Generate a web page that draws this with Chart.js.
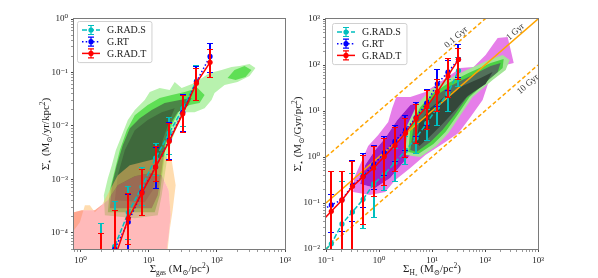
<!DOCTYPE html>
<html>
<head>
<meta charset="utf-8">
<script src="https://cdn.jsdelivr.net/npm/chart.js@4/dist/chart.umd.min.js"></script>
<style>
html, body { margin: 0; padding: 0; background: #fff; }
#wrap { position: relative; width: 598px; height: 278px; overflow: hidden; }
#wrap canvas { position: absolute; top: 0; }
</style>
</head>
<body>
<div id="wrap">
<canvas id="left" width="300" height="278" style="left:0"></canvas>
<canvas id="right" width="308" height="278" style="left:290px"></canvas>
</div>
<script>
const FONT = "'Liberation Serif', 'DejaVu Serif', serif";

// ---- left panel: SFR surface density vs gas surface density ----
const gasBins = [2.0, 3.16, 5.01, 7.94, 12.6, 20.0, 31.6, 50.1, 79.4];
const gasRadS   = [2e-5, 5.6e-5, 2.4e-4, 7.3e-4, 2.5e-3, 7.4e-3, 2.1e-2, 6.9e-2, null];
const gasRadSLo = [1e-6, 1e-6, 7.6e-5, 3.3e-4, 1.2e-3, 3.0e-3, 1.0e-2, 3.0e-2, null];
const gasRadSHi = [1.5e-4, 4.0e-4, 7.5e-4, 1.7e-3, 4.8e-3, 1.5e-2, 4.0e-2, 0.14, null];
const gasRt     = [1e-5, 5.0e-5, 1.6e-4, 5.8e-4, 1.7e-3, 5.5e-3, 1.8e-2, 6.7e-2, 0.20];
const gasRtLo   = [1e-6, 1e-6, 5.0e-5, 2.2e-4, 7.0e-4, 2.4e-3, 8.0e-3, 3.0e-2, 0.10];
const gasRtHi   = [1.0e-4, 2.7e-4, 5.3e-4, 1.6e-3, 4.0e-3, 1.2e-2, 4.0e-2, 0.13, 0.35];
const gasRadT   = [2e-5, 3.4e-5, 1.86e-4, 5.6e-4, 1.7e-3, 5.2e-3, 1.7e-2, 6.3e-2, 0.155];
const gasRadTLo = [1e-6, 1e-6, 6.3e-5, 2.2e-4, 9.5e-4, 2.3e-3, 7.8e-3, 3.0e-2, 0.081];
const gasRadTHi = [1.0e-4, 2.7e-4, 5.5e-4, 1.55e-3, 4.2e-3, 1.15e-2, 3.8e-2, 0.12, 0.28];

// contour outlines, [log10 x, log10 y]
const gasGreen1 = [[0.356,-3.67],[0.341,-3.296],[0.40,-2.978],[0.458,-2.734],[0.517,-2.453],[0.605,-2.172],[0.693,-1.891],[0.795,-1.704],[0.941,-1.517],[1.015,-1.367],[1.161,-1.292],[1.307,-1.33],[1.381,-1.18],[1.483,-1.292],[1.673,-1.199],[1.893,-1.011],[2.069,-0.955],[2.215,-0.899],[2.332,-0.88],[2.479,-0.843],[2.566,-0.918],[2.479,-1.067],[2.303,-1.18],[2.113,-1.236],[1.966,-1.386],[1.922,-1.517],[1.82,-1.667],[1.673,-1.742],[1.527,-1.742],[1.425,-1.985],[1.337,-2.266],[1.278,-2.547],[1.234,-2.921],[1.19,-3.296],[1.132,-3.67],[0.795,-3.727]];
const gasGreen2 = [[0.40,-3.614],[0.429,-3.202],[0.502,-2.828],[0.575,-2.453],[0.678,-2.079],[0.795,-1.798],[0.985,-1.61],[1.161,-1.479],[1.337,-1.423],[1.527,-1.367],[1.717,-1.292],[1.82,-1.423],[1.746,-1.573],[1.6,-1.61],[1.454,-1.704],[1.337,-1.985],[1.249,-2.36],[1.205,-2.828],[1.161,-3.296],[1.088,-3.614]];
const gasGreen2b = [[2.157,-1.105],[2.259,-0.955],[2.406,-0.88],[2.508,-0.955],[2.42,-1.086],[2.274,-1.142]];
const gasGreen3 = [[0.429,-3.539],[0.458,-3.109],[0.531,-2.734],[0.619,-2.36],[0.722,-2.041],[0.868,-1.854],[1.044,-1.704],[1.234,-1.573],[1.454,-1.517],[1.63,-1.479],[1.571,-1.629],[1.425,-1.742],[1.307,-1.985],[1.234,-2.36],[1.19,-2.828],[1.132,-3.296],[1.044,-3.539]];
const gasGreen4 = [[0.502,-3.39],[0.546,-2.921],[0.649,-2.453],[0.795,-2.079],[0.985,-1.891],[1.19,-1.742],[1.381,-1.667],[1.307,-1.891],[1.205,-2.266],[1.132,-2.734],[1.059,-3.202],[0.941,-3.427]];
const gasRed1 = [[-0.098,-4.307],[-0.098,-3.951],[-0.01,-3.80],[0.063,-3.483],[0.136,-3.483],[0.209,-3.614],[0.312,-3.483],[0.429,-3.202],[0.546,-2.921],[0.722,-2.734],[1.015,-2.64],[1.234,-2.566],[1.337,-2.64],[1.395,-3.109],[1.351,-3.577],[1.307,-3.951],[1.278,-4.307]];
const gasRed2 = [[-0.098,-4.307],[-0.098,-3.614],[0.019,-3.577],[0.209,-3.577],[0.40,-3.39],[0.546,-3.109],[0.795,-2.94],[1.015,-2.884],[1.19,-2.921],[1.293,-3.202],[1.322,-3.67],[1.293,-4.045],[1.264,-4.307]];

// ---- right panel: SFR surface density vs H2 surface density ----
const h2Bins = [0.0794, 0.126, 0.2, 0.316, 0.501, 0.794, 1.26, 2.0, 3.16, 5.01, 7.94, 12.6, 20.0, 31.6];
const h2RadS   = [0.0076, 0.013, 0.035, 0.064, 0.12, 0.26, 0.42, 0.76, 1.38, 2.6, 5.4, 12.0, 24, 76];
const h2RadSLo = [0.001, 0.001, 0.001, 0.001, 0.028, 0.05, 0.19, 0.30, 0.70, 1.2, 2.3, 5.0, 10, 35];
const h2RadSHi = [0.05, 0.16, 0.30, 0.45, 0.45, 0.60, 1.0, 1.6, 2.8, 5.5, 11, 25, 50, 150];
const h2Rt     = [0.066, 0.091, 0.117, 0.245, 0.38, 0.68, 1.24, 2.2, 3.9, 7.2, 14.8, 39, 70, 133];
const h2RtLo   = [0.02, 0.024, 0.025, 0.04, 0.08, 0.2, 0.4, 0.8, 1.4, 2.8, 5, 13, 28, 55];
const h2RtHi   = [0.15, 0.16, 0.5, 0.85, 1.2, 1.8, 2.9, 5, 8, 16, 30, 80, 130, 290];
const h2RadT   = [0.038, 0.066, 0.115, 0.23, 0.37, 0.58, 1.02, 1.8, 3.3, 6.9, 12.3, 26, 58, 132];
const h2RadTLo = [0.001, 0.001, 0.001, 0.001, 0.035, 0.14, 0.25, 0.5, 1.0, 2.0, 4, 10, 20, 50];
const h2RadTHi = [0.3, 0.5, 0.5, 0.8, 1.1, 1.7, 2.6, 4.5, 7, 14, 29, 50, 140, 230];

const deplTimes = [0.1, 1, 10];          // Gyr
const deplNames = ['0.1 Gyr', '1 Gyr', '10 Gyr'];
const deplX = [0.1, 1000];

const h2Mag1 = [[-0.489,-0.761],[-0.47,-0.457],[-0.318,-0.065],[-0.205,0.239],[-0.015,0.478],[0.174,0.761],[0.25,1.065],[0.326,1.304],[0.591,1.304],[0.875,1.413],[1.292,1.739],[1.538,1.935],[1.784,1.957],[2.011,2.217],[2.144,2.435],[2.239,2.587],[2.428,2.609],[2.485,2.326],[2.542,2.043],[2.39,2.0],[2.106,1.891],[2.049,1.565],[1.955,1.239],[1.727,0.87],[1.5,0.522],[1.254,0.326],[0.875,0.043],[0.591,-0.239],[0.307,-0.5],[0.117,-0.761],[-0.167,-0.826]];
const h2Mag2 = [[-0.356,-0.587],[-0.261,-0.174],[-0.072,0.152],[0.117,0.413],[0.345,0.804],[0.591,1.13],[0.97,1.283],[1.348,1.565],[1.727,1.783],[2.068,2.0],[2.258,2.109],[2.258,1.98],[2.011,1.674],[1.727,1.348],[1.443,0.913],[1.159,0.543],[0.78,0.261],[0.496,-0.065],[0.212,-0.457],[-0.072,-0.674]];
const h2Green1 = [[0.496,0.043],[0.534,0.696],[0.723,1.152],[0.97,1.457],[1.273,1.674],[1.652,1.891],[2.068,2.109],[2.333,2.217],[2.466,2.109],[2.39,1.891],[2.144,1.674],[1.765,1.304],[1.538,0.913],[1.311,0.522],[1.083,0.239],[0.78,0.0]];
const h2Green2 = [[0.553,0.109],[0.591,0.652],[0.78,1.087],[1.027,1.391],[1.311,1.609],[1.689,1.826],[2.106,2.043],[2.352,2.13],[2.333,1.935],[2.068,1.674],[1.708,1.304],[1.481,0.913],[1.254,0.543],[1.027,0.283],[0.742,0.065]];
const h2Green3 = [[0.591,0.152],[0.648,0.63],[0.818,1.022],[1.064,1.326],[1.348,1.543],[1.727,1.761],[2.106,1.978],[2.295,2.043],[2.239,1.848],[2.011,1.63],[1.652,1.283],[1.424,0.913],[1.197,0.587],[0.97,0.326],[0.705,0.109]];
const h2Green4 = [[0.705,0.326],[0.761,0.761],[0.97,1.065],[1.254,1.326],[1.576,1.543],[1.917,1.717],[2.144,1.848],[2.011,1.587],[1.67,1.326],[1.443,1.022],[1.197,0.717],[0.932,0.413],[0.761,0.239]];

const xMajorL = [1, 10, 100, 1000];
const yMajorL = [1e-4, 1e-3, 1e-2, 1e-1, 1];
const xMajorR = [0.1, 1, 10, 100, 1000];
const yMajorR = [0.01, 0.1, 1, 10, 100, 1000];

// ---- helpers ----
const SUP = {'-': '\u207b', '0': '\u2070', '1': '\u00b9', '2': '\u00b2', '3': '\u00b3', '4': '\u2074', '5': '\u2075'};
function powLabel(v) {
  const e = Math.round(Math.log10(v));
  return '10' + String(e).split('').map(c => SUP[c]).join('');
}
function logTicks(min, max) {
  const out = [];
  for (let d = Math.floor(Math.log10(min)); d <= Math.ceil(Math.log10(max)); d++) {
    for (let m = 1; m <= 9; m++) {
      const v = m * Math.pow(10, d);
      if (v >= min * 0.9999 && v <= max * 1.0001) out.push(v);
    }
  }
  return out;
}
const isMajor = (v, majors) => majors.some(m => Math.abs(m / v - 1) < 1e-6);

function logAxis(min, max, majors, pos, size) {
  return {
    type: 'logarithmic', position: pos, min: min, max: max,
    afterBuildTicks: s => { s.ticks = logTicks(min, max).map(v => ({ value: v })); },
    afterFit: s => { if (pos === 'bottom') s.height = size; else s.width = size; },
    border: { display: false },
    grid: {
      drawOnChartArea: false, drawTicks: true, tickLength: 3, tickColor: '#333',
      tickWidth: c => (c.tick && isMajor(c.tick.value, majors)) ? 0.9 : 0.5
    },
    ticks: {
      autoSkip: false, maxRotation: 0, padding: 3, color: '#222',
      font: { family: FONT, size: 9 },
      callback: v => isMajor(v, majors) ? powLabel(v) : ''
    }
  };
}

function series(label, xs, ys, lo, hi, color, dash, order) {
  return {
    label: label, order: order, showLine: true, clip: 0,
    data: xs.map((x, i) => ({ x: x, y: ys[i] })),
    errLo: lo, errHi: hi,
    borderColor: color, backgroundColor: color, borderWidth: 1.5, borderDash: dash,
    pointRadius: 2.6, pointBackgroundColor: color, pointBorderWidth: 0
  };
}

function polyPath(ctx, chart, pts) {
  const xs = chart.scales.x, ys = chart.scales.y;
  pts.forEach((p, i) => {
    const px = xs.getPixelForValue(Math.pow(10, p[0]));
    const py = ys.getPixelForValue(Math.pow(10, p[1]));
    if (i === 0) ctx.moveTo(px, py); else ctx.lineTo(px, py);
  });
  ctx.closePath();
}

function clipArea(ctx, a) {
  ctx.beginPath();
  ctx.rect(a.left, a.top, a.right - a.left, a.bottom - a.top);
  ctx.clip();
}

const contourPlugin = {
  id: 'contours',
  beforeDatasetsDraw(chart, args, opts) {
    const ctx = chart.ctx;
    ctx.save();
    clipArea(ctx, chart.chartArea);
    (opts.layers || []).forEach(layer => {
      ctx.beginPath();
      layer.polys.forEach(p => polyPath(ctx, chart, p));
      ctx.fillStyle = layer.color;
      ctx.fill('evenodd');
    });
    ctx.restore();
  }
};

const errorBarPlugin = {
  id: 'errbars',
  beforeDatasetDraw(chart, args) {
    const ds = chart.data.datasets[args.index];
    if (!ds.errLo) return;
    const ctx = chart.ctx, xs = chart.scales.x, ys = chart.scales.y;
    ctx.save();
    clipArea(ctx, chart.chartArea);
    ctx.strokeStyle = ds.borderColor;
    ctx.setLineDash([]);
    ds.data.forEach((pt, i) => {
      if (pt.y == null || ds.errLo[i] == null) return;
      const px = Math.round(xs.getPixelForValue(pt.x));
      const lo = Math.round(ys.getPixelForValue(ds.errLo[i])) + 0.5;
      const hi = Math.round(ys.getPixelForValue(ds.errHi[i])) + 0.5;
      ctx.lineWidth = 2;
      ctx.beginPath();
      ctx.moveTo(px, lo); ctx.lineTo(px, hi);
      ctx.stroke();
      ctx.lineWidth = 1;
      ctx.beginPath();
      ctx.moveTo(px - 3, lo); ctx.lineTo(px + 3, lo);
      ctx.moveTo(px - 3, hi); ctx.lineTo(px + 3, hi);
      ctx.stroke();
    });
    ctx.restore();
  }
};

function drawRich(ctx, parts, cx, cy, rot) {
  ctx.save();
  ctx.translate(cx, cy);
  if (rot) ctx.rotate(rot);
  let w = 0;
  parts.forEach(p => { ctx.font = (p.s || 11) + 'px ' + FONT; p.w = ctx.measureText(p.t).width; w += p.w; });
  let x = -w / 2;
  ctx.fillStyle = '#222';
  ctx.textBaseline = 'alphabetic';
  parts.forEach(p => {
    ctx.font = (p.s || 11) + 'px ' + FONT;
    ctx.fillText(p.t, x, 4 + (p.dy || 0));
    x += p.w;
  });
  ctx.restore();
}

const decorPlugin = {
  id: 'decor',
  afterDatasetsDraw(chart, args, o) {
    const ctx = chart.ctx, a = chart.chartArea, xs = chart.scales.x, ys = chart.scales.y;
    // depletion time labels
    (o.notes || []).forEach(n => {
      const x1 = xs.getPixelForValue(n.x), y1 = ys.getPixelForValue(n.x / n.t);
      const x2 = xs.getPixelForValue(n.x * 10), y2 = ys.getPixelForValue(n.x * 10 / n.t);
      ctx.save();
      ctx.translate(x1, y1);
      ctx.rotate(Math.atan2(y2 - y1, x2 - x1));
      ctx.font = '9px ' + FONT;
      ctx.fillStyle = '#333';
      ctx.textAlign = 'center';
      ctx.textBaseline = 'middle';
      ctx.fillText(n.text, 0, n.off);
      ctx.restore();
    });
    // frame
    ctx.save();
    ctx.strokeStyle = '#7a7a7a';
    ctx.lineWidth = 1;
    ctx.strokeRect(Math.round(a.left) - 0.5, Math.round(a.top) - 0.5, Math.round(a.right - a.left) + 1, Math.round(a.bottom - a.top) + 1);
    ctx.restore();
    // axis titles
    drawRich(ctx, o.xTitle, (a.left + a.right) / 2, a.bottom + 19, 0);
    drawRich(ctx, o.yTitle, a.left - 29, (a.top + a.bottom) / 2, -Math.PI / 2);
    // legend
    const items = chart.data.datasets.filter(d => d.errLo);
    const x0 = a.left + o.legend.dx, y0 = a.top + o.legend.dy, rowH = 11.7;
    ctx.save();
    ctx.font = '10px ' + FONT;
    const tw = Math.max(...items.map(d => ctx.measureText(d.label).width));
    const w = 30 + tw + 5, h = items.length * rowH + 6;
    ctx.beginPath();
    ctx.roundRect(x0 + 0.5, y0 + 0.5, w, h, 2);
    ctx.fillStyle = 'rgba(255,255,255,0.85)';
    ctx.fill();
    ctx.strokeStyle = '#d0d0d0';
    ctx.lineWidth = 1;
    ctx.stroke();
    items.forEach((d, i) => {
      const y = y0 + 9 + i * rowH;
      ctx.strokeStyle = d.borderColor;
      ctx.lineWidth = 1.5;
      ctx.setLineDash(d.borderDash || []);
      ctx.beginPath(); ctx.moveTo(x0 + 5, y); ctx.lineTo(x0 + 23, y); ctx.stroke();
      ctx.setLineDash([]);
      ctx.lineWidth = 1.2;
      ctx.beginPath();
      ctx.moveTo(x0 + 14, y - 4.5); ctx.lineTo(x0 + 14, y + 4.5);
      ctx.moveTo(x0 + 11, y - 4.5); ctx.lineTo(x0 + 17, y - 4.5);
      ctx.moveTo(x0 + 11, y + 4.5); ctx.lineTo(x0 + 17, y + 4.5);
      ctx.stroke();
      ctx.beginPath(); ctx.arc(x0 + 14, y, 2.6, 0, Math.PI * 2);
      ctx.fillStyle = d.borderColor; ctx.fill();
      ctx.fillStyle = '#222';
      ctx.textBaseline = 'middle';
      ctx.fillText(d.label, x0 + 30, y + 0.5);
    });
    ctx.restore();
  }
};

const CYAN = '#00bfbf', BLUE = '#0000ff', RED = '#ff0000', ORANGE = '#ffa500';
const SUB = 7.5;

new Chart(document.getElementById('left'), {
  type: 'scatter',
  data: {
    datasets: [
      series('G.RAD.S', gasBins, gasRadS, gasRadSLo, gasRadSHi, CYAN, [5, 2], 3),
      series('G.RT', gasBins, gasRt, gasRtLo, gasRtHi, BLUE, [1.5, 2.2], 2),
      series('G.RAD.T', gasBins, gasRadT, gasRadTLo, gasRadTHi, RED, [], 1)
    ]
  },
  options: {
    responsive: false, animation: false, devicePixelRatio: 1,
    layout: { padding: { top: 19, right: 15, left: 0, bottom: 0 } },
    scales: {
      x: logAxis(0.8, 1000, xMajorL, 'bottom', 29),
      y: logAxis(5e-5, 1, yMajorL, 'left', 74)
    },
    plugins: {
      legend: { display: false },
      tooltip: { enabled: false },
      contours: {
        layers: [
          { polys: [gasGreen1], color: '#b8f2ae' },
          { polys: [gasGreen2, gasGreen2b], color: '#5fdf55' },
          { polys: [gasGreen3], color: '#4b8647' },
          { polys: [gasGreen4], color: '#3f693c' },
          { polys: [gasRed1, gasRed2], color: 'rgba(255,185,95,0.5)' },
          { polys: [gasRed2], color: 'rgba(255,110,110,0.48)' }
        ]
      },
      decor: {
        legend: { dx: 3, dy: 2 },
        xTitle: [{ t: '\u03a3' }, { t: 'gas', s: SUB, dy: 2.5 }, { t: ' (M' }, { t: '\u2299', s: SUB, dy: 2.5 }, { t: '/pc' }, { t: '2', s: SUB, dy: -4.5 }, { t: ')' }],
        yTitle: [{ t: '\u03a3\u0307' }, { t: '\u22c6', s: SUB, dy: 2.5 }, { t: ' (M' }, { t: '\u2299', s: SUB, dy: 2.5 }, { t: '/yr/kpc' }, { t: '2', s: SUB, dy: -4.5 }, { t: ')' }]
      }
    }
  },
  plugins: [contourPlugin, errorBarPlugin, decorPlugin]
});

const deplSets = deplTimes.map((t, i) => ({
  label: deplNames[i], order: 4, showLine: true, clip: 0,
  data: deplX.map(x => ({ x: x, y: x / t })),
  borderColor: ORANGE, borderWidth: 1.5, borderDash: t === 1 ? [] : [4, 2.5],
  pointRadius: 0
}));

new Chart(document.getElementById('right'), {
  type: 'scatter',
  data: {
    datasets: [
      series('G.RAD.S', h2Bins, h2RadS, h2RadSLo, h2RadSHi, CYAN, [5, 2], 3),
      series('G.RT', h2Bins, h2Rt, h2RtLo, h2RtHi, BLUE, [1.5, 2.2], 2),
      series('G.RAD.T', h2Bins, h2RadT, h2RadTLo, h2RadTHi, RED, [], 1)
    ].concat(deplSets)
  },
  options: {
    responsive: false, animation: false, devicePixelRatio: 1,
    layout: { padding: { top: 19, right: 60, left: 0, bottom: 0 } },
    scales: {
      x: logAxis(0.1, 1000, xMajorR, 'bottom', 29),
      y: logAxis(0.01, 1000, yMajorR, 'left', 36)
    },
    plugins: {
      legend: { display: false },
      tooltip: { enabled: false },
      contours: {
        layers: [
          { polys: [h2Mag1, h2Mag2], color: '#e67ee9' },
          { polys: [h2Mag2], color: '#a01fc6' },
          { polys: [h2Green1], color: '#a3e597' },
          { polys: [h2Green2], color: '#4bd244' },
          { polys: [h2Green3], color: '#52705a' },
          { polys: [h2Green4], color: '#34473a' }
        ]
      },
      decor: {
        legend: { dx: 6, dy: 4 },
        notes: [
          { t: deplTimes[0], x: 33, off: -5, text: deplNames[0] },
          { t: deplTimes[1], x: 433, off: -5, text: deplNames[1] },
          { t: deplTimes[2], x: 513, off: 8, text: deplNames[2] }
        ],
        xTitle: [{ t: '\u03a3' }, { t: 'H\u2082', s: SUB, dy: 2.5 }, { t: ' (M' }, { t: '\u2299', s: SUB, dy: 2.5 }, { t: '/pc' }, { t: '2', s: SUB, dy: -4.5 }, { t: ')' }],
        yTitle: [{ t: '\u03a3\u0307' }, { t: '\u22c6', s: SUB, dy: 2.5 }, { t: ' (M' }, { t: '\u2299', s: SUB, dy: 2.5 }, { t: '/Gyr/pc' }, { t: '2', s: SUB, dy: -4.5 }, { t: ')' }]
      }
    }
  },
  plugins: [contourPlugin, errorBarPlugin, decorPlugin]
});
</script>
</body>
</html>
